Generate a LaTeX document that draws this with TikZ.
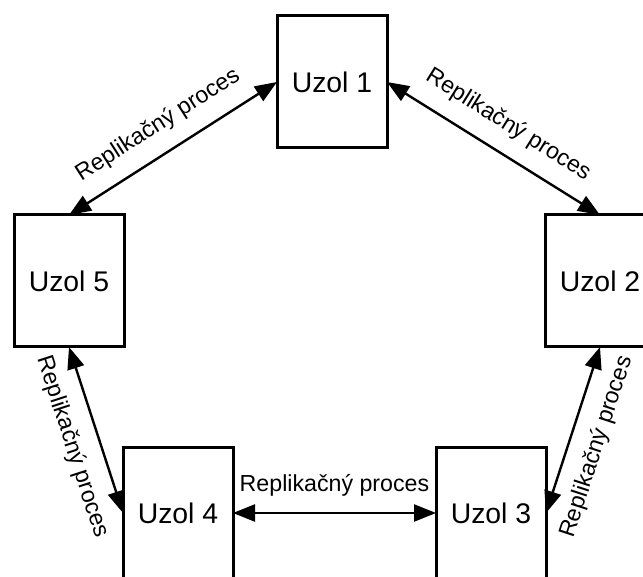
\documentclass[tikz,border=0pt]{standalone}
\usepackage{fontspec}
\setmainfont{Liberation Sans}
\usetikzlibrary{positioning}
\usetikzlibrary{arrows.meta}

\begin{document}
\begin{tikzpicture}[
                uzolnode/.style={rectangle, draw=black, line width=1.5pt, minimum width=55pt, minimum height=66pt, inner sep=0pt, outer sep=0pt, font=\fontsize{14.2}{16}\selectfont},
                replarrow/.style={{Triangle[length=11pt,width=8.5pt]}-{Triangle[length=11pt,width=8.5pt]}, line width=1.2pt},
                repllabel/.style={sloped, above=4.5pt, font=\fontsize{11.6}{14}\selectfont},
                ]
                \useasboundingbox (0,0) rectangle (321.5pt,-288.5pt);

                \node[uzolnode] (U1) at (166pt,-41pt) {Uzol 1};
                \node[uzolnode, below left=33.5pt and 76.5pt of U1] (U5) {Uzol 5};
                \node[uzolnode, below right=33.5pt and 79pt of U1] (U2) {Uzol 2};
                \node[uzolnode, below=50pt of U5, xshift=54.5pt] (U4) {Uzol 4};
                \node[uzolnode, right=101.5pt of U4] (U3) {Uzol 3};

                \draw[replarrow] (U5.north) -- node[repllabel] {Replikačný proces} (U1.west);
                \draw[replarrow] (U1.east) -- node[repllabel] {Replikačný proces} (U2.north);
                \draw[replarrow] (U5.south) -- node[repllabel, below=4.5pt, pos=0.55] {Replikačný proces} (U4.west);
                \draw[replarrow] (U3.east) -- node[repllabel, below=4.5pt, pos=0.45] {Replikačný proces} (U2.south);
                \draw[replarrow] (U4.east) -- node[repllabel] {Replikačný proces} (U3.west);
\end{tikzpicture}
\end{document}
